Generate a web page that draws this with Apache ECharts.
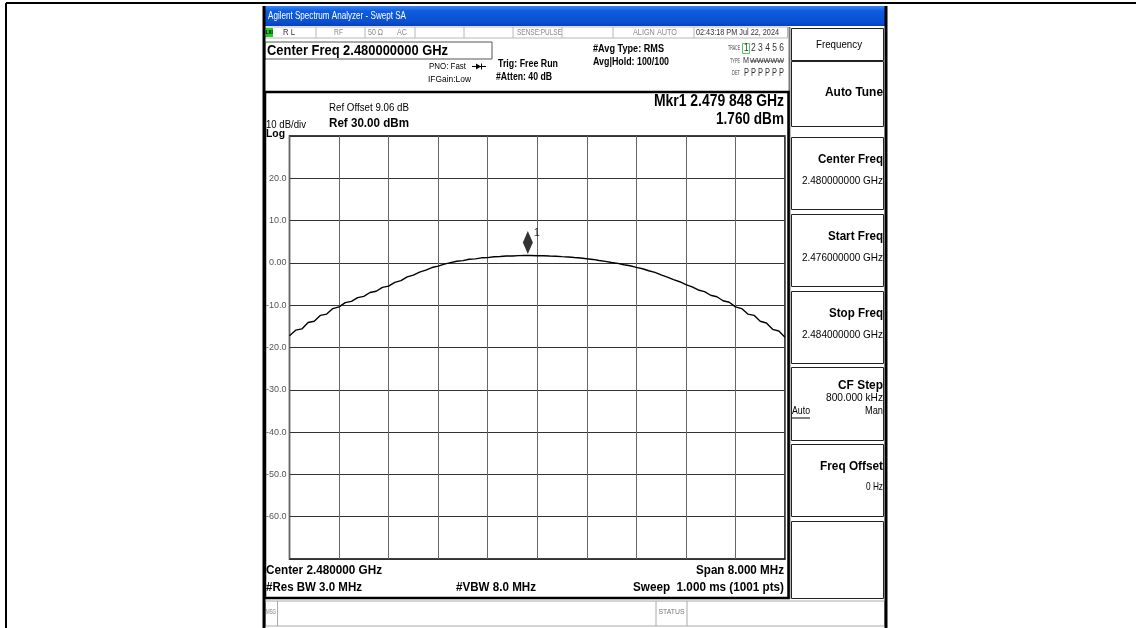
<!DOCTYPE html>
<html>
<head>
<meta charset="utf-8">
<script src="https://cdn.jsdelivr.net/npm/echarts@6/dist/echarts.min.js"></script>
<style>
html,body{margin:0;padding:0;background:#fff;}
#c{width:1136px;height:628px;}
</style>
</head>
<body>
<div id="c"></div>
<script>
// ---- data ----
const freqMHz = [
 2476.0,2476.1,2476.2,2476.3,2476.4,2476.5,2476.6,2476.7,2476.8,2476.9,
 2477.0,2477.1,2477.2,2477.3,2477.4,2477.5,2477.6,2477.7,2477.8,2477.9,
 2478.0,2478.1,2478.2,2478.3,2478.4,2478.5,2478.6,2478.7,2478.8,2478.9,
 2479.0,2479.1,2479.2,2479.3,2479.4,2479.5,2479.6,2479.7,2479.8,2479.9,
 2480.0,2480.1,2480.2,2480.3,2480.4,2480.5,2480.6,2480.7,2480.8,2480.9,
 2481.0,2481.1,2481.2,2481.3,2481.4,2481.5,2481.6,2481.7,2481.8,2481.9,
 2482.0,2482.1,2482.2,2482.3,2482.4,2482.5,2482.6,2482.7,2482.8,2482.9,
 2483.0,2483.1,2483.2,2483.3,2483.4,2483.5,2483.6,2483.7,2483.8,2483.9,
 2484.0
];
const levelDbm = [
 -17.2,-15.9,-15.6,-14.1,-13.8,-12.4,-12.1,-10.8,-10.4,-9.4,
 -9.1,-8.2,-7.9,-7.0,-6.7,-5.8,-5.5,-4.6,-4.2,-3.3,
 -2.9,-2.2,-1.7,-1.1,-0.75,-0.3,0.05,0.4,0.55,0.85,
 0.95,1.2,1.25,1.45,1.5,1.62,1.64,1.72,1.75,1.74,
 1.70,1.68,1.62,1.58,1.48,1.40,1.27,1.16,0.98,0.82,
 0.58,0.37,0.08,-0.12,-0.45,-0.68,-1.05,-1.38,-1.85,-2.25,
 -2.85,-3.35,-3.95,-4.45,-5.15,-5.65,-6.4,-6.8,-7.65,-8.0,
 -8.95,-9.3,-10.4,-10.8,-12.1,-12.4,-13.8,-14.2,-15.7,-16.1,
 -17.6
];
const yTickValues = [30, 20, 10, 0, -10, -20, -30, -40, -50, -60, -70];
const markerFreqMHz = 2479.848;
const markerLevel = 1.760;
const startMHz = 2476, stopMHz = 2484, divMHz = 0.8;
const refLevel = 30, bottomLevel = -70, dbPerDiv = 10;

// ---- helpers ----
const FF = '"Liberation Sans",Arial,"DejaVu Sans",sans-serif';
const mctx = document.createElement('canvas').getContext('2d');
function T(text, x, y, size, opts) {
  opts = opts || {};
  const font = (opts.bold ? 'bold ' : '') + size + 'px ' + FF;
  let sx = opts.sx || 0.86;
  if (opts.w) { mctx.font = font; sx = opts.w / mctx.measureText(text).width; }
  return {
    type: 'text', z: 100, x: x, y: y, scaleX: sx,
    style: {
      text: text, x: 0, y: 0, font: font,
      fill: opts.color || '#000',
      textAlign: opts.align || 'left',
      textVerticalAlign: 'middle'
    }
  };
}
function R(x, y, w, h, fill, stroke, lw, z) {
  return { type: 'rect', z: z == null ? 50 : z, shape: {x: x, y: y, width: w, height: h},
    style: {fill: fill || 'none', stroke: stroke || null, lineWidth: lw || 1} };
}
function L(x1, y1, x2, y2, stroke, lw, z) {
  return { type: 'line', z: z == null ? 60 : z, shape: {x1: x1, y1: y1, x2: x2, y2: y2},
    style: {stroke: stroke, lineWidth: lw || 1} };
}

const chart = echarts.init(document.getElementById('c'), null, {renderer: 'canvas'});

const g = [];
// page border
g.push(L(6, 3, 1136, 3, '#000', 2));
g.push(L(6, 3, 6, 628, '#000', 2));
// title bar
g.push({ type: 'rect', z: 40, shape: {x: 264, y: 6, width: 623, height: 20},
  style: { fill: new echarts.graphic.LinearGradient(0, 0, 0, 1, [
    {offset: 0, color: '#3b86f5'}, {offset: 0.25, color: '#0d5ce0'},
    {offset: 0.8, color: '#0a4fd0'}, {offset: 1, color: '#0841b8'}]) } });
g.push(T('Agilent Spectrum Analyzer - Swept SA', 268, 16, 11, {color: '#fff', w: 138}));
// instrument frame
g.push(L(264, 6, 264, 628, '#000', 3));
g.push(L(886, 6, 886, 628, '#000', 3));
// status row
g.push(R(265.5, 27, 522, 11, '#fff', '#b8b8b8', 1));
[316, 365, 415, 464, 513, 562, 613, 694].forEach(function (x) { g.push(L(x, 27, x, 38, '#b8b8b8', 1)); });
g.push(R(265.5, 28, 7.5, 9, '#22d022', null, 0, 55));
g.push(T('LXI', 269.3, 32.6, 6, {bold: true, align: 'center', color: '#000', sx: 0.75}));
g.push(T('R L', 283, 32.5, 9, {color: '#333', w: 12}));
g.push(T('RF', 334, 32.5, 8.5, {color: '#888', w: 9}));
g.push(T('50 \u03A9', 368, 32.5, 8.5, {color: '#888', w: 15}));
g.push(T('AC', 397, 32.5, 8.5, {color: '#888', w: 10}));
g.push(T('SENSE:PULSE', 517, 32.5, 8.5, {color: '#888', w: 45}));
g.push(T('ALIGN AUTO', 633, 32.5, 8.5, {color: '#888', w: 44}));
g.push(T('02:43:18 PM Jul 22, 2024', 696, 32.5, 9, {color: '#333', w: 83}));
// header
g.push(R(265, 42, 227, 17, '#fff', '#555', 1));
g.push(T('Center Freq 2.480000000 GHz', 267, 51, 15, {bold: true, w: 181}));
g.push(T('PNO: Fast', 429, 66.5, 9.5, {w: 37}));
g.push(L(472, 66.5, 486, 66.5, '#000', 1));
g.push({ type: 'polygon', z: 60, shape: {points: [[476, 63.5], [481, 66.5], [476, 69.5]]}, style: {fill: '#000'} });
g.push(L(481.5, 63.5, 481.5, 69.5, '#000', 1));
g.push(T('IFGain:Low', 428, 79, 9.5, {w: 43}));
g.push(T('Trig: Free Run', 498, 63.5, 11, {bold: true, w: 60}));
g.push(T('#Atten: 40 dB', 496, 77, 11, {bold: true, w: 56}));
g.push(T('#Avg Type: RMS', 593, 48.5, 11, {bold: true, w: 71}));
g.push(T('Avg|Hold: 100/100', 593, 62, 11, {bold: true, w: 76}));
g.push(T('TRACE', 740, 48.5, 6.5, {align: 'right', color: '#444', w: 12}));
g.push(T('TYPE', 740, 61, 6.5, {align: 'right', color: '#444', w: 10}));
g.push(T('DET', 740, 73.5, 6.5, {align: 'right', color: '#444', w: 8}));
g.push(R(742.5, 43.5, 7, 10, 'none', '#5c5', 1));
g.push(T('1 2 3 4 5 6', 744, 48.5, 10, {color: '#333', w: 40}));
g.push(T('M', 743, 61, 8.5, {color: '#333', w: 6}));
g.push(T('WWWWW', 750, 61, 7.5, {color: '#333', w: 34}));
g.push(L(750, 61, 784, 61, '#333', 0.7));
g.push(T('P P P P P P', 744, 73.5, 10, {color: '#333', w: 40}));
// main panel
g.push(R(265, 92, 523.5, 506, 'none', '#000', 2.5, 70));
g.push(T('Ref Offset 9.06 dB', 329, 108.5, 10.5, {w: 80}));
g.push(T('Ref 30.00 dBm', 329, 123.5, 13, {bold: true, w: 80}));
g.push(T('10 dB/div', 266, 125, 10, {w: 40}));
g.push(T('Log', 266, 133.5, 11, {bold: true, w: 19}));
const mkrFreqStr = (function () {
  const ghz = (markerFreqMHz / 1000).toFixed(6);
  return ghz.slice(0, 5) + ' ' + ghz.slice(5);
})();
g.push(T('Mkr1 ' + mkrFreqStr + ' GHz', 784, 101.5, 16, {bold: true, align: 'right', w: 130}));
g.push(T(markerLevel.toFixed(3) + ' dBm', 784, 119.5, 16, {bold: true, align: 'right', w: 68}));
g.push(T('Center 2.480000 GHz', 266, 570.5, 13, {bold: true, w: 116}));
g.push(T('Span 8.000 MHz', 784, 570.5, 13, {bold: true, align: 'right', w: 88}));
g.push(T('#Res BW 3.0 MHz', 266, 587.5, 13, {bold: true, w: 96}));
g.push(T('#VBW 8.0 MHz', 456, 587.5, 13, {bold: true, w: 80}));
g.push(T('Sweep  1.000 ms (1001 pts)', 784, 587.5, 13, {bold: true, align: 'right', w: 151}));
// message row
g.push(R(265.5, 601, 619, 25, '#fff', '#aaa', 1));
g.push(L(277.5, 601, 277.5, 626, '#aaa', 1));
g.push(L(656, 601, 656, 626, '#aaa', 1));
g.push(L(687, 601, 687, 626, '#aaa', 1));
g.push(T('MSG', 266, 612, 7, {color: '#777', w: 10}));
g.push(T('STATUS', 658.5, 612, 7, {color: '#777', w: 26}));
// softkey panel
g.push(L(789.5, 27, 789.5, 599, '#777', 2));
const keys = [
  [28, 32], [61, 65], [137, 72], [214, 72], [291, 72], [367, 73], [444, 72], [521, 77]
];
keys.forEach(function (k) { g.push(R(791.5, k[0] + 0.5, 92, k[1], '#fff', '#222', 1, 45)); });
g.push(T('Frequency', 839, 44.5, 11, {align: 'center', w: 46}));
g.push(T('Auto Tune', 883, 92.5, 13, {bold: true, align: 'right', w: 58}));
g.push(T('Center Freq', 883, 159.5, 13, {bold: true, align: 'right', w: 65}));
g.push(T('2.480000000 GHz', 883, 181, 10.5, {align: 'right', w: 81}));
g.push(T('Start Freq', 883, 236.5, 13, {bold: true, align: 'right', w: 55}));
g.push(T('2.476000000 GHz', 883, 258, 10.5, {align: 'right', w: 81}));
g.push(T('Stop Freq', 883, 313.5, 13, {bold: true, align: 'right', w: 54}));
g.push(T('2.484000000 GHz', 883, 335, 10.5, {align: 'right', w: 81}));
g.push(T('CF Step', 883, 385.5, 13, {bold: true, align: 'right', w: 45}));
g.push(T('800.000 kHz', 883, 398.5, 10.5, {align: 'right', w: 57}));
g.push(T('Auto', 792, 411.5, 10.5, {w: 18}));
g.push(L(792, 418, 810, 418, '#000', 1));
g.push(T('Man', 883, 411.5, 10.5, {align: 'right', w: 18}));
g.push(T('Freq Offset', 883, 466, 13, {bold: true, align: 'right', w: 63}));
g.push(T('0 Hz', 883, 487, 10.5, {align: 'right', w: 17}));

const option = {
  animation: false,
  backgroundColor: '#fff',
  grid: {left: 289.5, top: 136, width: 495.5, height: 423, show: true,
    borderColor: '#000', borderWidth: 1.5, backgroundColor: '#fff', containLabel: false},
  xAxis: {
    type: 'value', min: startMHz, max: stopMHz, interval: divMHz,
    axisLine: {show: false}, axisTick: {show: false}, axisLabel: {show: false},
    splitLine: {show: true, lineStyle: {color: '#666', width: 1}}
  },
  yAxis: {
    type: 'value', min: bottomLevel, max: refLevel, interval: dbPerDiv,
    axisLine: {show: false}, axisTick: {show: false},
    splitLine: {show: true, lineStyle: {color: '#333', width: 1}},
    axisLabel: {
      margin: 3, fontSize: 9, color: '#555', fontFamily: FF,
      formatter: function (v) {
        if (v === yTickValues[0] || v === yTickValues[yTickValues.length - 1]) return '';
        if (v === 0) return '0.00';
        return v.toFixed(1);
      }
    }
  },
  series: [
    {
      type: 'line', data: freqMHz.map(function (f, i) { return [f, levelDbm[i]]; }),
      showSymbol: false, symbol: 'none', smooth: false,
      lineStyle: {color: '#000', width: 1.4}, z: 5
    },
    {
      type: 'scatter', data: [[markerFreqMHz, markerLevel]],
      symbol: 'diamond', symbolSize: [10, 23], symbolOffset: [0, -13],
      itemStyle: {color: '#000'}, z: 6,
      label: {show: true, formatter: '1', position: 'right', distance: 1, offset: [0, -9],
        fontSize: 11, color: '#000', fontFamily: FF}
    }
  ],
  graphic: {elements: g}
};
chart.setOption(option);
</script>
</body>
</html>
